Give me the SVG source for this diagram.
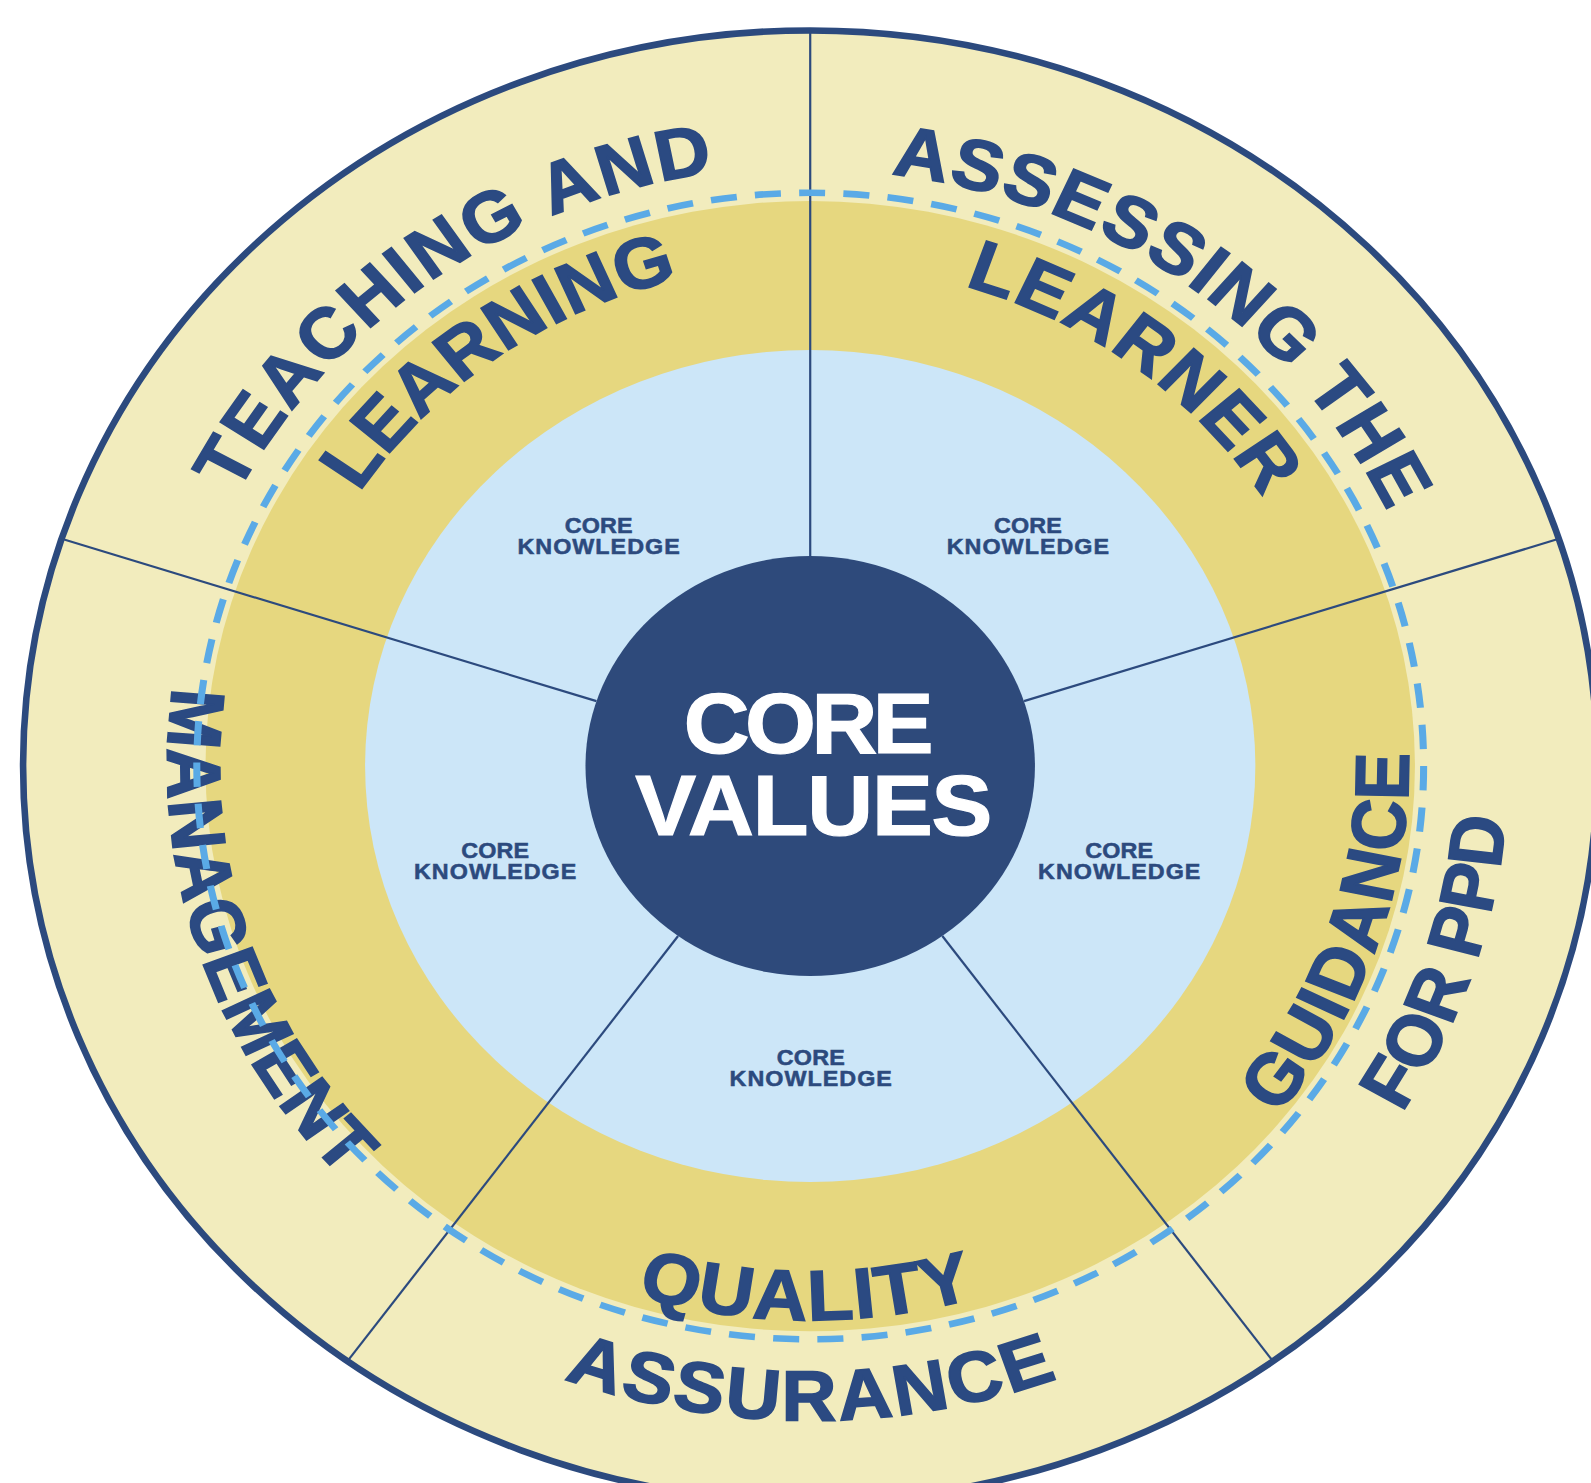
<svg xmlns="http://www.w3.org/2000/svg" width="1591" height="1483" viewBox="0 0 1591 1483">
<defs>
<style>
.lbl{font-family:"Liberation Sans",Arial,sans-serif;font-weight:700;fill:#2b4a82;stroke:#2b4a82;stroke-width:1.6;font-size:70px}
.ck{font-family:"Liberation Sans",Arial,sans-serif;font-weight:700;fill:#2c4a7e;stroke:#2c4a7e;stroke-width:0.5;font-size:21.5px;text-anchor:middle}
.cv{font-family:"Liberation Sans",Arial,sans-serif;font-weight:700;fill:#ffffff;stroke:#ffffff;stroke-width:1.2;font-size:84px;text-anchor:middle}
.spoke{stroke:#2c4a7e;stroke-width:2.2;vector-effect:non-scaling-stroke;fill:none}
</style>
<path id="p1" d="M -527.5 -268.8 A 592 592 0 0 1 -88.5 -585.4"/>
<path id="p2" d="M -415.2 -269.6 A 495 495 0 0 1 -121.4 -479.9"/>
<path id="p3" d="M 74.7 -583.2 A 588 588 0 0 1 531.6 -251.3"/>
<path id="p4" d="M 142.0 -473.2 A 494 494 0 0 1 416.6 -265.4"/>
<path id="p5" d="M -586.9 -77.3 A 592 592 0 0 0 -431.6 405.2"/>
<path id="p6" d="M 430.6 343.8 A 551 551 0 0 0 550.9 -12.5"/>
<path id="p7" d="M 544.7 341.7 A 643 643 0 0 0 640.9 51.6"/>
<path id="p8" d="M -159.6 522.1 A 546 546 0 0 0 152.3 524.3"/>
<path id="p9" d="M -226.9 603.8 A 645 645 0 0 0 228.0 603.3"/>
</defs>
<rect width="1591" height="1483" fill="#ffffff"/>
<g transform="scale(1.01467)">
<g transform="translate(798.5 755) scale(1.07 1)">
  <g id="rings">
    <circle r="725" fill="#f2ecbd" stroke="#2c4a7e" stroke-width="6.6" vector-effect="non-scaling-stroke"/>
    <circle r="557" fill="#e6d77f"/>
    <circle r="410" fill="#cce6f8"/>
  </g>
  <g id="connectors">
    <line class="spoke" x1="0" y1="-207" x2="0" y2="-725"/>
    <line class="spoke" x1="196.9" y1="-64.0" x2="689.5" y2="-224.0"/>
    <line class="spoke" x1="121.7" y1="167.5" x2="426.2" y2="586.5"/>
    <line class="spoke" x1="-121.7" y1="167.5" x2="-426.2" y2="586.5"/>
    <line class="spoke" x1="-196.9" y1="-64.0" x2="-689.5" y2="-224.0"/>
  </g>
  <g id="teaching-and-learning">
    <text class="lbl"><textPath href="#p1" textLength="562" lengthAdjust="spacing">TEACHING AND</textPath></text>
    <text class="lbl"><textPath href="#p2" textLength="370" lengthAdjust="spacing">LEARNING</textPath></text>
    <text class="ck" x="-194.9" y="-230" textLength="62.6" lengthAdjust="spacing">CORE</text>
    <text class="ck" x="-194.9" y="-209" textLength="149.5" lengthAdjust="spacing">KNOWLEDGE</text>
  </g>
  <g id="assessing-the-learner">
    <text class="lbl"><textPath href="#p3" textLength="589" lengthAdjust="spacing">ASSESSING THE</textPath></text>
    <text class="lbl"><textPath href="#p4" textLength="352" lengthAdjust="spacing">LEARNER</textPath></text>
    <text class="ck" x="200.5" y="-230" textLength="62.6" lengthAdjust="spacing">CORE</text>
    <text class="ck" x="200.5" y="-209" textLength="149.5" lengthAdjust="spacing">KNOWLEDGE</text>
  </g>
  <g id="management">
    <text class="lbl"><textPath href="#p5" textLength="524" lengthAdjust="spacing">MANAGEMENT</textPath></text>
    <text class="ck" x="-290.2" y="91" textLength="62.6" lengthAdjust="spacing">CORE</text>
    <text class="ck" x="-290.2" y="111" textLength="149.5" lengthAdjust="spacing">KNOWLEDGE</text>
  </g>
  <g id="guidance-for-ppd">
    <text class="lbl"><textPath href="#p6" textLength="384" lengthAdjust="spacing">GUIDANCE</textPath></text>
    <text class="lbl"><textPath href="#p7" textLength="309" lengthAdjust="spacing">FOR PPD</textPath></text>
    <text class="ck" x="284.6" y="91" textLength="62.6" lengthAdjust="spacing">CORE</text>
    <text class="ck" x="284.6" y="111" textLength="149.5" lengthAdjust="spacing">KNOWLEDGE</text>
  </g>
  <g id="quality-assurance">
    <text class="lbl"><textPath href="#p8" textLength="316" lengthAdjust="spacing">QUALITY</textPath></text>
    <text class="lbl"><textPath href="#p9" textLength="465" lengthAdjust="spacing">ASSURANCE</textPath></text>
    <text class="ck" x="0.5" y="295" textLength="62.6" lengthAdjust="spacing">CORE</text>
    <text class="ck" x="0.5" y="315" textLength="149.5" lengthAdjust="spacing">KNOWLEDGE</text>
  </g>
  <circle id="dashed-ring" r="565" fill="none" stroke="#5aaae6" stroke-width="6.5" stroke-dasharray="24 16.8"/>
  <g id="core-values">
    <circle r="207" fill="#2e4a7b"/>
    <text class="cv" x="-1.4" y="-13" textLength="230" lengthAdjust="spacing">CORE</text>
    <text class="cv" x="3.3" y="68" textLength="329" lengthAdjust="spacing">VALUES</text>
  </g>
</g>
</g>
</svg>
